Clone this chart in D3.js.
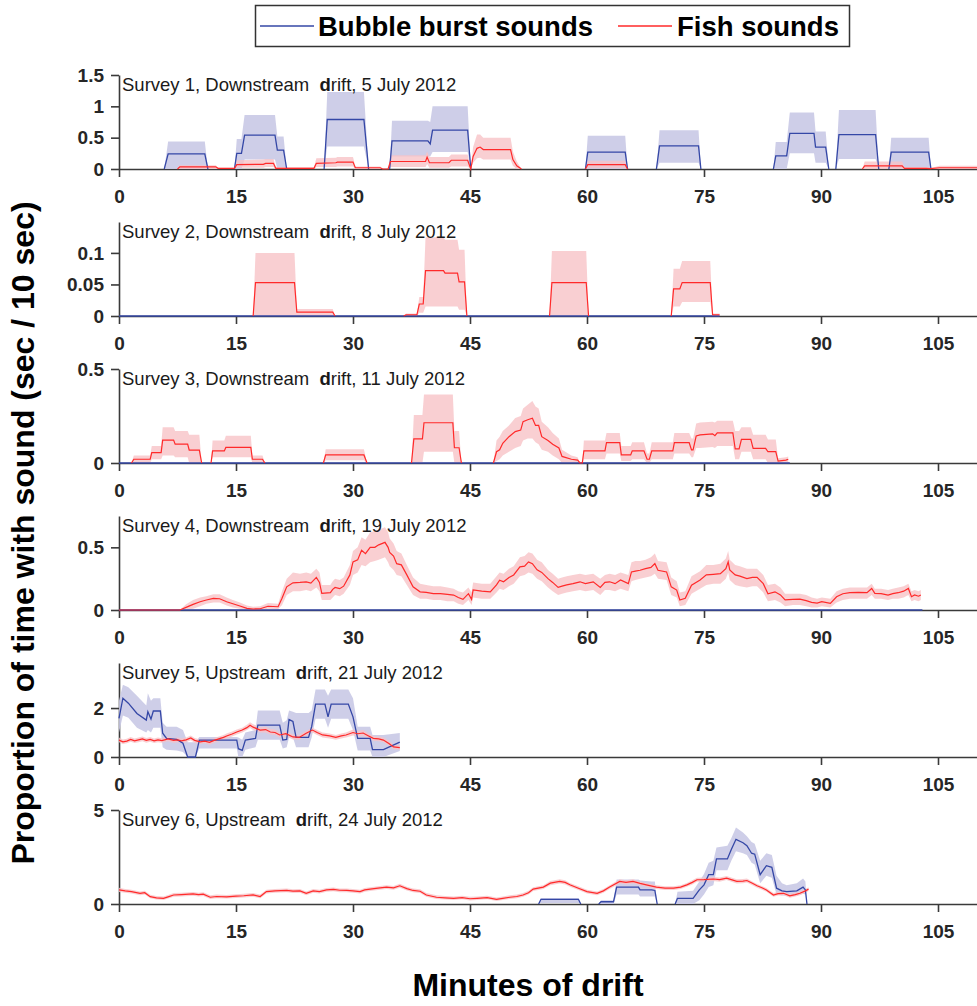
<!DOCTYPE html>
<html><head><meta charset="utf-8">
<script src="https://cdn.jsdelivr.net/npm/d3@7"></script>
<style>
body{margin:0;background:#fff;}
text{font-family:"Liberation Sans",Arial,Helvetica,sans-serif;}
</style></head>
<body><svg id="chart" width="977" height="1006"></svg>
<script>
// ---------------- DATA ----------------
const xTicks = [0, 15, 30, 45, 60, 75, 90, 105];
const surveyTitles = [
  ["Survey 1, Downstream  ", "d", "rift, 5 July 2012"],
  ["Survey 2, Downstream  ", "d", "rift, 8 July 2012"],
  ["Survey 3, Downstream  ", "d", "rift, 11 July 2012"],
  ["Survey 4, Downstream  ", "d", "rift, 19 July 2012"],
  ["Survey 5, Upstream  ", "d", "rift, 21 July 2012"],
  ["Survey 6, Upstream  ", "d", "rift, 24 July 2012"]
];
const yMaxes = [1.5, 0.149, 0.5, 0.75, 3.84, 5];
const yTickValues = [[0, 0.5, 1, 1.5], [0, 0.05, 0.1], [0, 0.5], [0, 0.5], [0, 2], [0, 5]];
const legendLabels = ["Bubble burst sounds", "Fish sounds"];

// each point: [minute, mean, lower, upper]; null = gap
const s1Bubble = [
  [5.8,0,0,0],[6.3,0.24,0,0.44],[11.0,0.24,0,0.44],[11.4,0,0,0], null,
  [14.8,0,0,0],[15.1,0.25,0,0.48],[15.7,0.25,0,0.48],[16.1,0.54,0.15,0.86],[20.0,0.54,0.15,0.86],[20.3,0.3,0,0.52],[21.1,0.3,0,0.52],[21.5,0,0,0], null,
  [26.3,0,0,0],[26.7,0.79,0.36,1.23],[31.4,0.79,0.36,1.23],[32.0,0,0,0], null,
  [34.7,0,0,0],[35.0,0.45,0.2,0.77],[39.6,0.45,0.2,0.77],[39.9,0.4,0.2,0.75],[40.2,0.62,0.27,1.0],[44.7,0.62,0.27,1.0],[45.1,0,0,0], null,
  [59.8,0,0,0],[60.1,0.27,0,0.53],[64.9,0.27,0,0.53],[65.2,0,0,0], null,
  [68.9,0,0,0],[69.3,0.37,0.1,0.62],[74.3,0.37,0.1,0.62],[74.6,0,0,0], null,
  [83.9,0,0,0],[84.2,0.21,0,0.43],[85.6,0.21,0,0.43],[86.0,0.57,0.25,0.9],[89.1,0.57,0.25,0.9],[89.3,0.35,0.1,0.6],[90.6,0.35,0.1,0.6],[91.0,0,0,0], null,
  [91.9,0,0,0],[92.3,0.55,0.16,0.94],[97.0,0.55,0.16,0.94],[97.4,0,0,0], null,
  [98.7,0,0,0],[99.0,0.27,0,0.5],[103.8,0.27,0,0.5],[104.1,0,0,0]
];
const s1Fish = [
  [7.5,0,0,0],[7.8,0.035,0,0.06],[12.4,0.035,0,0.06],[12.7,0.01,0,0.02],[14.8,0.01,0,0.02],[15.1,0.07,0.02,0.14],[18.5,0.075,0.02,0.15],[18.8,0.09,0.03,0.16],[19.8,0.09,0.03,0.16],[20.1,0.01,0,0.03],[25.0,0.01,0,0.03],[25.3,0.09,0.03,0.17],[27.8,0.1,0.03,0.18],[28.0,0.11,0.04,0.19],[30.0,0.11,0.04,0.19],[30.3,0.02,0,0.04],[33.5,0.02,0,0.04],[33.8,0,0,0],
  [34.5,0,0,0],[34.8,0.12,0.03,0.22],[39.3,0.12,0.03,0.22],[39.5,0.19,0.08,0.28],[39.8,0.1,0.02,0.19],[42.3,0.1,0.02,0.19],[42.6,0.14,0.04,0.23],[44.7,0.14,0.04,0.23],[45.1,0,0,0],[45.4,0.2,0.1,0.35],[45.9,0.33,0.17,0.55],[46.3,0.35,0.18,0.55],[46.7,0.31,0.15,0.5],[50.2,0.31,0.15,0.5],[50.5,0.15,0.05,0.28],[51.0,0.05,0,0.12],[51.6,0,0,0], null,
  [59.8,0,0,0],[60.1,0.07,0.01,0.13],[64.9,0.07,0.01,0.13],[65.2,0,0,0], null,
  [95.3,0,0,0],[95.6,0.05,0,0.12],[100.4,0.05,0,0.12],[100.7,0.01,0,0.03],[103.5,0.01,0,0.03],[104.0,0.005,0,0.01],[105.2,0.02,0,0.05],[110,0.02,0,0.05]
];
const s2Bubble = [[0,0,0,0],[77,0,0,0]];
const s2Fish = [
  [17.2,0,0,0],[17.5,0.053,0,0.1],[22.5,0.053,0,0.1],[22.8,0.006,0,0.011],[27.4,0.006,0,0.011],[27.7,0,0,0], null,
  [36.5,0,0,0],[36.8,0.002,0,0.004],[38.2,0.002,0,0.004],[38.5,0.019,0.005,0.03],[39.0,0.019,0.005,0.03],[39.3,0.072,0.015,0.125],[41.6,0.072,0.015,0.125],[41.8,0.068,0.015,0.121],[43.4,0.068,0.015,0.121],[43.6,0.054,0.01,0.105],[44.3,0.054,0.01,0.105],[44.6,0,0,0], null,
  [55.2,0,0,0],[55.5,0.053,0,0.103],[59.9,0.053,0,0.103],[60.2,0,0,0], null,
  [70.8,0,0,0],[71.1,0.043,0.015,0.075],[71.9,0.043,0.015,0.075],[72.2,0.053,0.022,0.087],[75.8,0.053,0.022,0.087],[76.1,0.002,0,0.004],[77,0.002,0,0.004]
];
const s3Bubble = [[0,0,0,0],[86,0,0,0]];
const s3Fish = [
  [1.6,0,0,0],[1.9,0.02,0,0.04],[4.0,0.02,0,0.04],[4.2,0.055,0.02,0.09],[5.4,0.055,0.02,0.09],[5.6,0.122,0.04,0.19],[7.0,0.122,0.04,0.19],[7.2,0.1,0.03,0.17],[8.8,0.1,0.03,0.17],[9.0,0.069,0,0.15],[10.3,0.069,0,0.15],[10.6,0,0,0], null,
  [11.8,0,0,0],[12.0,0.064,0.03,0.12],[13.5,0.064,0.03,0.12],[13.7,0.083,0.03,0.145],[16.9,0.083,0.03,0.145],[17.1,0.02,0,0.04],[18.4,0.02,0,0.04],[18.7,0,0,0], null,
  [26.2,0,0,0],[26.5,0.043,0.015,0.073],[31.4,0.043,0.015,0.073],[31.8,0,0,0], null,
  [37.5,0,0,0],[37.8,0.128,0,0.255],[38.9,0.128,0,0.255],[39.1,0.214,0.06,0.365],[42.8,0.214,0.06,0.365],[43.0,0.081,0,0.17],[43.6,0.081,0,0.17],[43.9,0,0,0], null,
  [48.0,0,0,0],[48.4,0.06,0.01,0.12],[48.8,0.07,0.02,0.14],[49.2,0.105,0.04,0.17],[50.0,0.14,0.06,0.2],[50.8,0.167,0.08,0.24],[51.5,0.175,0.09,0.25],[51.8,0.22,0.12,0.29],[52.4,0.23,0.13,0.31],[53.0,0.238,0.13,0.33],[53.4,0.2,0.11,0.3],[53.8,0.2,0.1,0.29],[54.2,0.14,0.07,0.22],[55.0,0.12,0.06,0.19],[55.6,0.1,0.04,0.16],[56.4,0.08,0.02,0.13],[56.8,0.035,0,0.07],[58.0,0.02,0,0.04],[58.8,0.015,0,0.03],[59.1,0,0,0],[59.4,0,0,0],
  [59.6,0.065,0.02,0.12],[62.3,0.065,0.02,0.12],[62.5,0.108,0.05,0.16],[64.2,0.108,0.05,0.16],[64.4,0.043,0.01,0.09],[65.6,0.043,0.01,0.09],[65.8,0.065,0.02,0.11],[67.3,0.065,0.02,0.11],[67.7,0.02,0,0.05],[68.0,0.02,0,0.05],[68.3,0.065,0.02,0.11],[71.0,0.065,0.02,0.11],[71.2,0.108,0.05,0.16],[73.1,0.108,0.05,0.16],[73.4,0.07,0.03,0.13],[73.6,0.07,0.03,0.13],[74.0,0.144,0.08,0.21],[74.5,0.15,0.08,0.215],[76.1,0.155,0.085,0.22],[76.4,0.145,0.08,0.215],[76.7,0.16,0.09,0.225],[78.7,0.16,0.09,0.225],[79.0,0.075,0.02,0.17],[79.5,0.075,0.02,0.17],[79.8,0.126,0.06,0.19],[81.0,0.126,0.06,0.19],[81.3,0.078,0.02,0.15],[82.9,0.078,0.02,0.15],[83.2,0.06,0,0.125],[84.2,0.06,0,0.125],[84.5,0.01,0,0.025],[85.5,0.015,0,0.03],[85.8,0.02,0,0.035]
];
const s4Bubble = [[0,0,0,0],[103,0,0,0]];
const s4Fish = [
  [0,0,0,0],[7.8,0,0,0],[8.6,0.021,0,0.045],[9.5,0.045,0.01,0.08],[10.4,0.066,0.03,0.1],[11.2,0.08,0.05,0.11],[12.1,0.093,0.06,0.125],[12.9,0.09,0.06,0.125],[13.8,0.066,0.035,0.1],[14.6,0.05,0.02,0.08],[15.5,0.032,0.01,0.06],[16.4,0.013,0,0.035],[17.2,0.008,0,0.025],[18.1,0.01,0,0.03],[19.1,0.03,0.01,0.055],[20.4,0.026,0.005,0.05],[20.9,0.093,0.04,0.15],[21.5,0.185,0.12,0.25],[22.3,0.217,0.15,0.3],[23.2,0.22,0.15,0.29],[24.0,0.225,0.16,0.3],[24.6,0.215,0.15,0.29],[25.3,0.26,0.18,0.33],[25.7,0.22,0.15,0.3],[26.0,0.133,0.08,0.2],[27.1,0.138,0.08,0.2],[27.4,0.165,0.1,0.23],[27.7,0.18,0.12,0.25],[28.3,0.17,0.11,0.24],[28.8,0.19,0.13,0.26],[29.6,0.28,0.2,0.36],[30.0,0.384,0.28,0.47],[30.6,0.4,0.3,0.5],[31.1,0.476,0.36,0.58],[31.6,0.45,0.35,0.56],[32.2,0.5,0.38,0.62],[32.8,0.5,0.39,0.63],[33.3,0.52,0.4,0.64],[33.7,0.53,0.41,0.65],[34.1,0.54,0.42,0.66],[34.5,0.5,0.38,0.62],[34.7,0.46,0.35,0.57],[35.2,0.43,0.32,0.53],[35.6,0.37,0.28,0.47],[36.2,0.36,0.27,0.45],[36.9,0.28,0.2,0.36],[37.7,0.185,0.12,0.26],[38.6,0.145,0.09,0.21],[39.4,0.14,0.09,0.2],[40.3,0.13,0.08,0.19],[41.2,0.13,0.08,0.19],[42.1,0.125,0.07,0.18],[42.9,0.119,0.07,0.17],[43.5,0.1,0.05,0.15],[44.1,0.085,0.04,0.14],[44.8,0.13,0.08,0.18],[45.2,0.085,0.04,0.14],[45.4,0.16,0.1,0.22],[46.5,0.15,0.09,0.21],[47.6,0.145,0.09,0.21],[48.4,0.2,0.14,0.27],[48.8,0.238,0.17,0.3],[49.3,0.225,0.16,0.29],[50.0,0.26,0.19,0.33],[50.6,0.28,0.21,0.35],[51.4,0.344,0.27,0.42],[52.0,0.35,0.28,0.43],[52.5,0.384,0.3,0.46],[53.0,0.37,0.29,0.45],[53.6,0.32,0.25,0.4],[54.2,0.3,0.23,0.38],[55.0,0.25,0.18,0.32],[55.6,0.22,0.15,0.29],[56.3,0.18,0.12,0.25],[56.8,0.19,0.13,0.26],[57.4,0.2,0.14,0.27],[58.2,0.21,0.15,0.28],[59.1,0.225,0.16,0.29],[59.8,0.21,0.15,0.28],[60.8,0.225,0.16,0.29],[61.7,0.18,0.12,0.25],[62.3,0.22,0.16,0.28],[62.9,0.225,0.16,0.29],[63.6,0.21,0.15,0.28],[64.3,0.24,0.17,0.3],[65.3,0.211,0.15,0.28],[65.7,0.304,0.23,0.38],[66.2,0.31,0.24,0.39],[66.8,0.317,0.25,0.39],[67.5,0.33,0.26,0.4],[68.2,0.34,0.27,0.42],[68.7,0.37,0.29,0.45],[69.1,0.317,0.25,0.39],[70.2,0.304,0.24,0.38],[70.8,0.185,0.12,0.26],[71.5,0.159,0.1,0.23],[71.9,0.08,0.03,0.14],[72.6,0.093,0.04,0.15],[73.4,0.198,0.13,0.27],[74.5,0.24,0.17,0.31],[75.3,0.28,0.2,0.36],[76.2,0.285,0.21,0.36],[77.1,0.29,0.21,0.37],[77.8,0.33,0.25,0.41],[78.1,0.384,0.3,0.47],[78.3,0.32,0.24,0.4],[79.0,0.28,0.2,0.36],[79.6,0.27,0.19,0.35],[80.5,0.25,0.18,0.33],[81.2,0.26,0.19,0.33],[81.8,0.26,0.19,0.33],[82.6,0.21,0.14,0.28],[83.2,0.13,0.07,0.2],[84.1,0.145,0.08,0.21],[84.8,0.12,0.06,0.18],[85.4,0.08,0.03,0.13],[86.4,0.085,0.04,0.13],[87.3,0.087,0.04,0.13],[88.1,0.075,0.03,0.12],[88.8,0.061,0.02,0.1],[89.5,0.055,0.02,0.09],[90.1,0.066,0.03,0.1],[91.2,0.053,0.02,0.09],[92.0,0.106,0.06,0.15],[92.8,0.13,0.08,0.17],[93.7,0.138,0.09,0.18],[94.8,0.14,0.09,0.18],[95.9,0.138,0.09,0.18],[96.5,0.172,0.12,0.21],[96.9,0.133,0.09,0.17],[97.7,0.13,0.09,0.17],[98.6,0.119,0.08,0.16],[99.2,0.13,0.09,0.17],[99.9,0.138,0.09,0.18],[100.6,0.15,0.1,0.19],[101.2,0.172,0.12,0.21],[101.6,0.106,0.07,0.15],[102.0,0.12,0.08,0.16],[102.5,0.11,0.07,0.15],[102.8,0.12,0.08,0.16]
];
const s5Bubble = [
  [0,1.58,1.0,2.3],[0.5,2.4,1.7,2.95],[1.2,2.2,1.6,2.85],[2.3,1.78,1.2,2.5],[3.5,1.51,1.0,2.1],[3.7,1.85,1.1,2.6],[4.1,1.55,1.0,2.3],[4.4,1.88,1.2,2.4],[5.3,1.88,1.2,2.4],[5.6,0.97,0.4,1.4],[6.1,0.76,0.3,1.24],[7.4,0.72,0.27,1.24],[8.2,0.56,0.2,1.1],[8.8,0,0,0.6],[9.8,0,0,0.6],[10.3,0.69,0.35,0.82],[15.1,0.69,0.35,0.82],[15.3,0.34,0,0.8],[15.8,0.27,0,0.7],[16.2,0.69,0.3,1.0],[17.5,0.76,0.4,1.1],[17.8,1.3,0.7,1.9],[20.6,1.3,0.7,1.9],[21.0,0.69,0.35,1.4],[21.5,0.72,0.4,1.5],[21.8,1.53,0.8,1.9],[22.3,1.45,0.8,1.85],[22.7,0.8,0.4,1.8],[24.3,0.8,0.4,1.8],[24.7,1.24,0.8,1.9],[25.2,2.16,1.56,2.76],[26.4,2.16,1.56,2.76],[26.8,1.64,1.2,2.5],[27.2,2.16,1.56,2.76],[29.4,2.16,1.56,2.76],[30.0,1.64,1.1,2.4],[30.6,0.76,0.27,1.24],[32.2,0.76,0.27,1.24],[32.5,0.3,0,0.9],[33.9,0.3,0,0.9],[36.0,0.61,0.25,0.98]
];
const s5Fish = [
  [0,0.69,0.6,0.8],[0.5,0.62,0.53,0.72],[1.0,0.65,0.56,0.75],[1.5,0.72,0.62,0.82],[2.0,0.66,0.57,0.76],[2.5,0.7,0.6,0.8],[3.0,0.74,0.64,0.84],[3.5,0.68,0.58,0.78],[4.0,0.72,0.62,0.82],[4.5,0.66,0.57,0.76],[5.0,0.7,0.6,0.8],[5.5,0.67,0.58,0.77],[6.3,0.74,0.64,0.84],[7.0,0.68,0.58,0.78],[7.5,0.7,0.6,0.8],[8.0,0.66,0.57,0.76],[8.6,0.7,0.6,0.8],[9.2,0.78,0.68,0.88],[9.7,0.68,0.58,0.78],[10.4,0.62,0.53,0.72],[11.0,0.65,0.56,0.75],[11.6,0.6,0.5,0.7],[12.2,0.68,0.58,0.78],[12.8,0.74,0.64,0.84],[13.4,0.8,0.7,0.9],[13.8,0.86,0.76,0.96],[14.5,0.94,0.84,1.04],[15.1,1.02,0.92,1.12],[15.8,1.1,1.0,1.2],[16.4,1.2,1.1,1.32],[16.8,1.3,1.18,1.42],[17.2,1.22,1.1,1.34],[18.1,1.1,1.0,1.22],[18.8,1.12,1.0,1.24],[19.4,1.02,0.92,1.14],[20.0,1.0,0.9,1.12],[20.6,0.9,0.8,1.0],[21.4,0.95,0.85,1.05],[22.3,0.82,0.72,0.92],[23.1,0.8,0.7,0.9],[24.0,0.97,0.87,1.07],[24.8,1.1,1.0,1.2],[25.4,1.0,0.9,1.1],[26.1,0.9,0.8,1.0],[27.0,0.86,0.76,0.96],[27.8,0.8,0.7,0.9],[28.5,0.86,0.76,0.96],[29.1,0.9,0.8,1.0],[30.0,1.0,0.88,1.12],[30.6,0.95,0.84,1.06],[31.3,0.98,0.86,1.1],[32.0,0.86,0.76,0.96],[32.6,0.76,0.66,0.86],[33.3,0.74,0.64,0.84],[33.9,0.69,0.6,0.8],[34.6,0.55,0.46,0.66],[35.2,0.41,0.32,0.5],[36.0,0.38,0.3,0.47]
];
const s6Bubble = [
  [53.8,0,0,0],[54.1,0.25,0.05,0.32],[58.9,0.25,0.05,0.32],[59.2,0,0,0], null,
  [61.5,0,0,0],[61.8,0.12,0,0.2],[63.4,0.12,0,0.2],[63.8,0.9,0.5,1.3],[66.6,0.9,0.5,1.3],[66.8,0.75,0.4,1.25],[68.3,0.75,0.4,1.2],[68.7,0.72,0.4,1.2],[69.0,0,0,0], null,
  [71.3,0,0,0],[71.6,0.3,0,0.65],[73.6,0.3,0,0.7],[74.4,0.75,0.2,1.2],[75.0,1.02,0.5,1.6],[75.6,1.56,0.9,2.2],[76.2,1.56,1.0,2.3],[76.6,2.4,1.8,3.0],[78.0,2.4,1.8,3.1],[78.5,2.9,2.3,3.5],[79.1,3.44,2.8,4.07],[80.0,3.26,2.7,3.8],[80.5,3.1,2.6,3.6],[81.1,2.7,2.2,3.3],[81.5,2.65,2.1,3.2],[82.2,1.56,1.1,2.3],[83.0,2.04,1.5,2.7],[83.7,1.95,1.4,2.6],[84.3,0.84,0.5,1.5],[85.0,0.7,0.45,1.1],[85.6,0.66,0.45,1.0],[86.9,0.7,0.45,1.1],[87.7,0.9,0.55,1.35],[88.0,0.75,0.5,1.2],[88.2,0,0,0]
];
const s6Fish = [
  [0,0.75,0.64,0.86],[0.8,0.7,0.6,0.8],[1.6,0.66,0.56,0.76],[2.7,0.57,0.47,0.67],[3.3,0.6,0.5,0.7],[4.0,0.39,0.3,0.49],[4.8,0.33,0.24,0.43],[5.7,0.3,0.21,0.4],[6.3,0.38,0.29,0.48],[7.0,0.48,0.38,0.58],[8.0,0.5,0.4,0.6],[9.5,0.54,0.44,0.64],[10.2,0.5,0.4,0.6],[10.8,0.52,0.42,0.62],[11.7,0.36,0.27,0.46],[12.5,0.4,0.3,0.5],[13.8,0.38,0.29,0.48],[15.0,0.42,0.32,0.52],[16.0,0.44,0.34,0.54],[17.2,0.48,0.38,0.58],[18.1,0.4,0.3,0.5],[18.9,0.66,0.56,0.76],[20.0,0.7,0.6,0.8],[21.5,0.72,0.62,0.82],[22.3,0.68,0.58,0.78],[23.2,0.7,0.6,0.8],[24.0,0.57,0.47,0.67],[24.9,0.7,0.6,0.8],[25.7,0.66,0.56,0.76],[26.6,0.75,0.65,0.85],[27.5,0.78,0.68,0.88],[28.3,0.73,0.63,0.83],[29.2,0.72,0.62,0.82],[30.0,0.7,0.6,0.8],[30.9,0.66,0.56,0.76],[31.5,0.75,0.65,0.85],[32.2,0.79,0.69,0.89],[33.2,0.84,0.74,0.94],[34.3,0.9,0.8,1.0],[35.2,0.86,0.76,0.96],[36.0,0.97,0.86,1.08],[36.9,0.82,0.72,0.92],[37.7,0.72,0.62,0.82],[38.6,0.68,0.58,0.78],[39.4,0.48,0.38,0.58],[40.7,0.36,0.27,0.46],[41.8,0.33,0.24,0.43],[42.9,0.3,0.21,0.4],[44.0,0.34,0.25,0.44],[45.0,0.28,0.19,0.38],[45.9,0.3,0.21,0.4],[47.2,0.34,0.25,0.44],[48.4,0.25,0.16,0.35],[49.2,0.3,0.21,0.4],[50.1,0.36,0.27,0.46],[51.0,0.4,0.3,0.5],[51.8,0.48,0.38,0.58],[52.5,0.6,0.5,0.7],[53.1,0.79,0.69,0.89],[54.4,0.9,0.8,1.0],[55.3,1.11,1.0,1.22],[56.5,1.2,1.09,1.31],[57.2,1.15,1.04,1.26],[57.8,1.02,0.92,1.12],[58.9,0.84,0.74,0.94],[60.0,0.66,0.56,0.76],[61.3,0.57,0.47,0.67],[62.1,0.7,0.6,0.8],[62.9,0.9,0.8,1.0],[64.2,1.2,1.09,1.31],[65.0,1.15,1.04,1.26],[65.9,1.2,1.09,1.31],[66.8,1.1,1.0,1.2],[67.6,1.02,0.92,1.12],[68.9,0.9,0.8,1.0],[70.0,0.84,0.74,0.94],[71.1,0.84,0.74,0.94],[72.0,0.9,0.8,1.0],[72.8,1.02,0.92,1.12],[73.5,1.15,1.04,1.26],[74.1,1.29,1.18,1.4],[75.0,1.3,1.19,1.41],[76.2,1.33,1.22,1.44],[77.0,1.3,1.19,1.41],[77.9,1.38,1.27,1.49],[78.5,1.3,1.19,1.41],[79.2,1.2,1.09,1.31],[80.0,1.22,1.11,1.33],[80.5,1.25,1.14,1.36],[81.2,1.1,1.0,1.2],[81.8,0.97,0.87,1.07],[82.5,0.85,0.75,0.95],[83.0,0.75,0.65,0.85],[83.9,0.48,0.38,0.58],[84.5,0.55,0.45,0.65],[85.2,0.57,0.47,0.67],[86.0,0.43,0.33,0.53],[86.7,0.5,0.4,0.6],[87.3,0.57,0.47,0.67],[88.0,0.7,0.6,0.8],[88.4,0.79,0.69,0.89]
];
const bubbleSeries = [s1Bubble, s2Bubble, s3Bubble, s4Bubble, s5Bubble, s6Bubble];
const fishSeries = [s1Fish, s2Fish, s3Fish, s4Fish, s5Fish, s6Fish];

// ---------------- DRAW ----------------
const svg = d3.select("#chart");
const blueLine = "#3447a6", redLine = "#ff2a2a";
const blueBand = "#c9c9e6", redBand = "#f7c3c7";
const axisCol = "#3a3a3a";
const x = d3.scaleLinear().domain([0, 110]).range([119, 977]);
const panelZero = [169, 316, 463, 610, 757, 904];
const panelH = 94;

surveyTitles.forEach((title, i) => {
  const y0 = panelZero[i];
  const y = d3.scaleLinear().domain([0, yMaxes[i]]).range([y0, y0 - panelH]);
  const g = svg.append("g");

  const area = d3.area().defined(d => d !== null)
    .x(d => x(d[0])).y0(d => y(d[2])).y1(d => y(d[3]));
  const line = d3.line().defined(d => d !== null)
    .x(d => x(d[0])).y(d => y(d[1]));

  // axes
  const xAxis = d3.axisBottom(x).tickValues(xTicks).tickSize(8).tickSizeOuter(0).tickPadding(13);
  const gx = g.append("g").attr("transform", `translate(0,${y0})`).call(xAxis);
  const yAxis = d3.axisLeft(y).tickValues(yTickValues[i]).tickSize(8).tickSizeOuter(0).tickPadding(7)
    .tickFormat(d3.format("~g"));
  const gy = g.append("g").attr("transform", `translate(119,0)`).call(yAxis);
  [gx, gy].forEach(ax => {
    ax.select(".domain").attr("stroke", axisCol).attr("stroke-width", 1.6);
    ax.selectAll(".tick line").attr("stroke", axisCol).attr("stroke-width", 1.6);
    ax.selectAll(".tick text").attr("fill", "#262626").attr("font-size", 19)
      .attr("font-weight", "bold").attr("font-family", '"Liberation Sans", Arial, sans-serif');
  });
  gx.selectAll(".tick text").attr("dy", "0.71em");

  // bands and lines
  g.append("path").datum(bubbleSeries[i]).attr("d", area).attr("fill", blueBand).attr("fill-opacity", 0.9);
  g.append("path").datum(fishSeries[i]).attr("d", area).attr("fill", redBand).attr("fill-opacity", 0.8);
  g.append("path").datum(bubbleSeries[i]).attr("d", line).attr("fill", "none")
    .attr("stroke", blueLine).attr("stroke-width", 1.3);
  g.append("path").datum(fishSeries[i]).attr("d", line).attr("fill", "none")
    .attr("stroke", redLine).attr("stroke-width", 1.2);

  // subtitle
  const t = g.append("text").attr("x", 122).attr("y", y0 - panelH + 15.5)
    .attr("font-size", 18.5).attr("fill", "#1a1a1a").style("white-space", "pre");
  t.append("tspan").text(title[0]);
  t.append("tspan").attr("font-weight", "bold").text(title[1]);
  t.append("tspan").text(title[2]);
});

// legend
const lg = svg.append("g");
lg.append("rect").attr("x", 255.5).attr("y", 5.5).attr("width", 594).attr("height", 41)
  .attr("fill", "#fff").attr("stroke", "#333").attr("stroke-width", 1.5);
lg.append("line").attr("x1", 260).attr("x2", 314).attr("y1", 26).attr("y2", 26)
  .attr("stroke", blueLine).attr("stroke-width", 1.3);
lg.append("text").attr("x", 318).attr("y", 36).attr("font-size", 27.5).attr("font-weight", "bold")
  .attr("fill", "#000").text(legendLabels[0]);
lg.append("line").attr("x1", 618).attr("x2", 672).attr("y1", 26).attr("y2", 26)
  .attr("stroke", redLine).attr("stroke-width", 1.3);
lg.append("text").attr("x", 677).attr("y", 36).attr("font-size", 27.5).attr("font-weight", "bold")
  .attr("fill", "#000").text(legendLabels[1]);

// axis titles
svg.append("text").attr("transform", "translate(34,533) rotate(-90)")
  .attr("text-anchor", "middle").attr("font-size", 32).attr("font-weight", "bold")
  .attr("fill", "#000").text("Proportion of time with sound (sec / 10 sec)");
svg.append("text").attr("x", 528).attr("y", 996).attr("text-anchor", "middle")
  .attr("font-size", 32).attr("font-weight", "bold").attr("fill", "#000").text("Minutes of drift");
</script></body></html>
